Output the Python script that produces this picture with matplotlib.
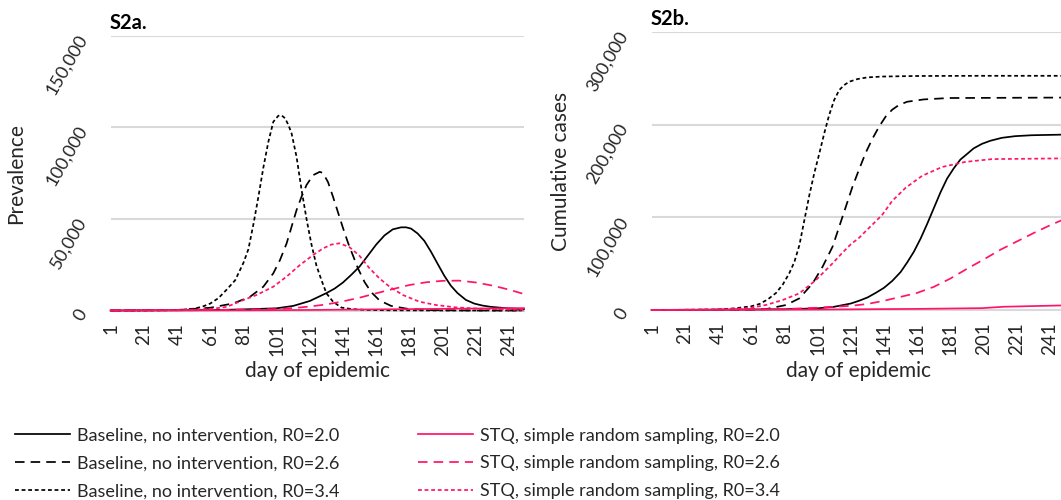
import matplotlib
matplotlib.use("Agg")
import matplotlib.pyplot as plt
from matplotlib.ticker import FuncFormatter

plt.rcParams['font.family'] = ['Lato', 'DejaVu Sans']

BLACK = '#000000'
PINK = '#FF1469'
GRID = '#D9D9D9'
TXT = '#262626'

# ---------------- Prevalence (S2a) ----------------
prev_base20_days = [1, 61, 81, 91, 101, 111, 121, 131, 136, 141, 146, 151, 156, 161, 166, 171, 176, 179,
                    182, 186, 190, 194, 198, 202, 206, 210, 215, 220, 225, 230, 240, 250]
prev_base20 = [0, 200, 600, 900, 1200, 2500, 5200, 9500, 12000, 15300, 19500, 24000, 30000, 36000, 41000,
               44300, 45400, 45400, 44700, 42000, 38000, 32100, 25500, 19000, 13500, 9500, 5800, 3800, 2700,
               2000, 1200, 800]

prev_base26_days = [1, 41, 61, 75, 85, 93, 99, 103, 107, 110, 113, 116, 119, 123, 127, 129, 132, 135, 138,
                    141, 144, 147, 150, 154, 158, 163, 170, 180, 195, 220, 250]
prev_base26 = [0, 300, 1500, 3900, 7500, 13000, 20300, 27500, 36600, 45700, 54800, 62100, 68500, 73900,
               75700, 75000, 70000, 62000, 53500, 45000, 37000, 30000, 23000, 15500, 10000, 5500, 2500, 900,
               200, 0, 0]

prev_base34_days = [1, 21, 41, 51, 56, 61, 66, 71, 76, 81, 84, 87, 90, 93, 96, 99, 102, 104, 106, 108, 110,
                    113, 116, 119, 122, 125, 128, 131, 135, 140, 146, 155, 170, 200, 250]
prev_base34 = [0, 0, 200, 1000, 2000, 3800, 6800, 11500, 16500, 26000, 33500, 47000, 62000, 78000, 92000,
               103000, 106300, 106500, 105000, 101500, 96700, 83900, 66000, 50000, 36000, 24500, 16600, 9400,
               4800, 1600, 800, 300, 100, 0, 0]

prev_stq20_days = [1, 81, 121, 161, 201, 250]
prev_stq20 = [0, 100, 300, 600, 900, 1300]

prev_stq26_days = [1, 61, 81, 101, 111, 121, 131, 141, 151, 161, 171, 181, 191, 201, 211, 221, 231, 241, 250]
prev_stq26 = [0, 200, 500, 800, 1300, 2200, 3300, 5000, 7000, 9400, 11700, 13900, 15400, 16200, 16300,
              15300, 13600, 11400, 9000]

prev_stq34_days = [1, 41, 61, 71, 81, 89, 99, 107, 115, 123, 129, 134, 139, 145, 151, 157, 163, 169, 177,
                   187, 197, 209, 223, 241, 250]
prev_stq34 = [0, 200, 800, 2000, 5700, 8500, 13000, 18500, 24800, 30300, 33900, 36000, 36700, 34500, 29800,
              23000, 17500, 13000, 8500, 4800, 3000, 1700, 1000, 500, 400]

# ---------------- Cumulative cases (S2b) ----------------
cum_base20_days = [1, 81, 101, 111, 121, 126, 131, 136, 141, 146, 151, 155, 159, 163, 167, 171, 175, 179,
                   183, 187, 191, 195, 200, 205, 212, 220, 230, 250]
cum_base20 = [0, 800, 1800, 3500, 7000, 10000, 13500, 18500, 24000, 31500, 41000, 51500, 63000, 77000, 93000,
              110000, 127000, 142000, 153000, 162500, 168500, 174600, 179500, 182800, 186000, 187800, 188800,
              189500]

cum_base26_days = [1, 61, 70, 82, 90, 98, 104, 110, 114, 118, 122, 126, 130, 134, 138, 142, 146, 150, 155,
                   165, 180, 250]
cum_base26 = [0, 300, 1000, 5400, 12600, 28800, 46800, 68400, 90000, 111600, 133200, 152000, 170000, 185000,
              198000, 209000, 216500, 221500, 225000, 227500, 229000, 229500]

cum_base34_days = [1, 41, 51, 61, 66, 71, 76, 80, 84, 87, 90, 93, 96, 99, 102, 105, 108, 111, 114, 117, 120,
                   125, 131, 140, 160, 200, 250]
cum_base34 = [0, 500, 1800, 4000, 6500, 11500, 18500, 27500, 40000, 52000, 70000, 97000, 124000, 148000,
              169000, 191000, 211000, 227000, 237600, 243000, 246600, 249500, 251300, 252200, 252800, 253000,
              253000]

cum_stq20_days = [1, 101, 161, 200, 213, 230, 250]
cum_stq20 = [0, 500, 1200, 2000, 3500, 4200, 5000]

cum_stq26_days = [1, 81, 101, 121, 131, 141, 151, 161, 171, 181, 191, 201, 211, 221, 231, 241, 250]
cum_stq26 = [0, 1000, 2500, 4500, 6500, 10000, 14200, 18500, 25000, 34000, 44500, 54500, 65000, 74000, 83000,
             91500, 98500]

cum_stq34_days = [1, 41, 60, 70, 80, 90, 100, 110, 116, 121, 126, 131, 135, 140, 146, 154, 164, 176, 190,
                  206, 250]
cum_stq34 = [0, 300, 2000, 5500, 10800, 18000, 32400, 50400, 62000, 71000, 78000, 87000, 94000, 103000,
             118000, 132000, 145000, 154500, 160000, 163000, 163800]

x_ticks = list(range(1, 251, 20))
prev_ticks = [0, 50000, 100000, 150000]
cum_ticks = [0, 100000, 200000, 300000]

labels = ['Baseline, no intervention, R0=2.0', 'Baseline, no intervention, R0=2.6',
          'Baseline, no intervention, R0=3.4', 'STQ, simple random sampling, R0=2.0',
          'STQ, simple random sampling, R0=2.6', 'STQ, simple random sampling, R0=3.4']

LW = 1.25
DASH = (0, (5.5, 3.5))
DOT = (0, (2.2, 1.6))

fig = plt.figure(figsize=(10.61, 5.0), dpi=100)
axL = fig.add_axes([0.1043, 0.379, 0.3895, 0.5496])
axR = fig.add_axes([0.6142, 0.380, 0.3895, 0.5554])

def style(ax, ylim, yticks, title, ylabel):
    ax.set_xlim(1, 250)
    ax.set_ylim(*ylim)
    ax.set_xticks(x_ticks)
    ax.set_xticklabels([str(t) for t in x_ticks], rotation=90, fontsize=13.5, color=TXT)
    ax.set_yticks(yticks)
    ax.yaxis.set_major_formatter(FuncFormatter(lambda v, p: f'{int(v):,}'))
    for lab in ax.get_yticklabels():
        lab.set_rotation(60)
        lab.set_ha('right')
        lab.set_va('center')
        lab.set_rotation_mode('anchor')
        lab.set_fontsize(13)
        lab.set_color(TXT)
    ax.tick_params(axis='x', length=0, pad=9)
    ax.tick_params(axis='y', length=0, pad=20)
    ax.grid(axis='y', color=GRID, linewidth=1.5)
    ax.set_axisbelow(True)
    for s in ['left', 'right', 'top']:
        ax.spines[s].set_visible(False)
    ax.spines['bottom'].set_color(GRID)
    ax.spines['bottom'].set_linewidth(1.5)
    ax.set_title(title, loc='left', fontsize=14.5, fontweight='bold', pad=5, x=-0.003)
    ax.set_ylabel(ylabel, fontsize=15, color=TXT)
    ax.set_xlabel('day of epidemic', fontsize=15, color=TXT, labelpad=4)

kw = dict(lw=LW, zorder=3, clip_on=False)
lines = []
lines.append(axL.plot(prev_base20_days, prev_base20, color=BLACK, ls='-', **kw)[0])
lines.append(axL.plot(prev_base26_days, prev_base26, color=BLACK, ls=DASH, **kw)[0])
lines.append(axL.plot(prev_base34_days, prev_base34, color=BLACK, ls=DOT, **kw)[0])
lines.append(axL.plot(prev_stq20_days, prev_stq20, color=PINK, ls='-', **kw)[0])
lines.append(axL.plot(prev_stq26_days, prev_stq26, color=PINK, ls=DASH, **kw)[0])
lines.append(axL.plot(prev_stq34_days, prev_stq34, color=PINK, ls=DOT, **kw)[0])

axR.plot(cum_base20_days, cum_base20, color=BLACK, ls='-', **kw)
axR.plot(cum_base26_days, cum_base26, color=BLACK, ls=DASH, **kw)
axR.plot(cum_base34_days, cum_base34, color=BLACK, ls=DOT, **kw)
axR.plot(cum_stq20_days, cum_stq20, color=PINK, ls='-', **kw)
axR.plot(cum_stq26_days, cum_stq26, color=PINK, ls=DASH, **kw)
axR.plot(cum_stq34_days, cum_stq34, color=PINK, ls=DOT, **kw)

style(axL, (0, 150000), prev_ticks, 'S2a.', 'Prevalence')
style(axR, (0, 300000), cum_ticks, 'S2b.', 'Cumulative cases')
axL.yaxis.set_label_coords(-0.205, 0.5)
axR.yaxis.set_label_coords(-0.195, 0.5)

leg_kw = dict(frameon=False, fontsize=13, handlelength=3.05, handletextpad=0.4, labelspacing=0.66,
              borderaxespad=0, borderpad=0)
leg1 = fig.legend(lines[:3], labels[:3], loc='upper left', bbox_to_anchor=(0.0141, 0.145), **leg_kw)
leg2 = fig.legend(lines[3:], labels[3:], loc='upper left', bbox_to_anchor=(0.394, 0.145), **leg_kw)
for lg in (leg1, leg2):
    for t in lg.get_texts():
        t.set_color(TXT)

fig.savefig('out.png', dpi=100)
